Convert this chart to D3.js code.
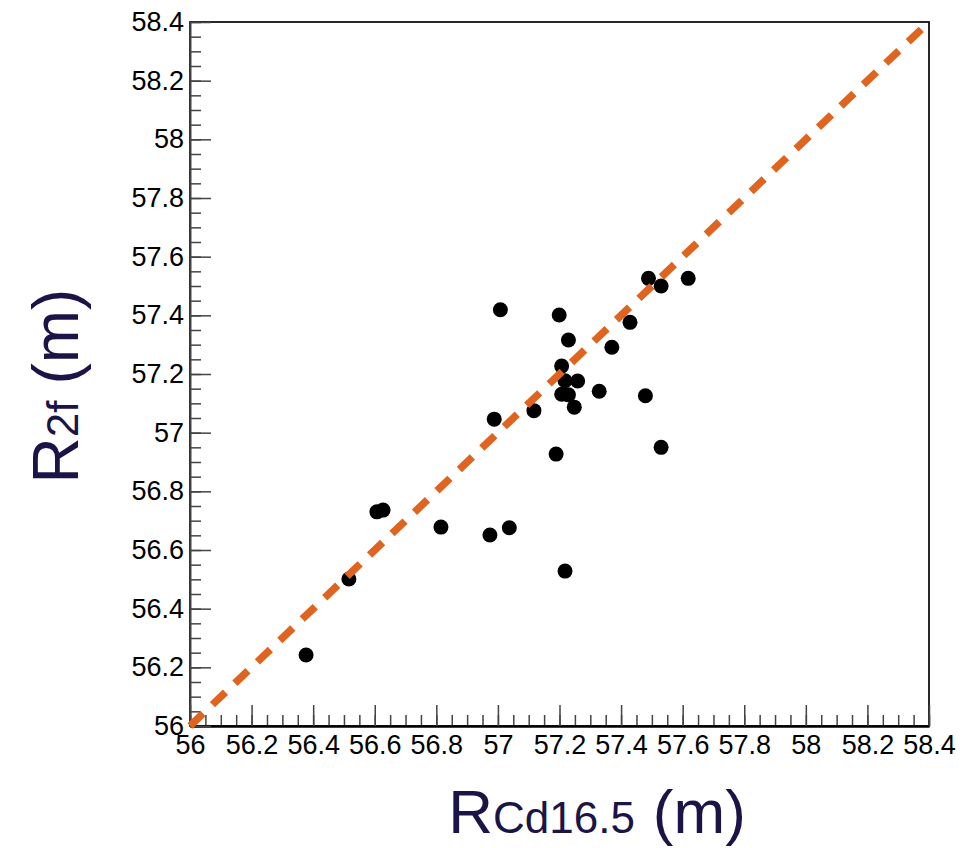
<!DOCTYPE html>
<html>
<head>
<meta charset="utf-8">
<script src="https://cdn.jsdelivr.net/npm/d3@7"></script>
<style>
  body { margin: 0; background: #fff; }
  svg { display: block; font-family: "Liberation Sans", Arial, Helvetica, sans-serif; }
</style>
</head>
<body>
<svg id="chart" width="968" height="848"></svg>
<script>
// values
const rCd = [56.377, 56.516, 56.607, 56.627, 56.815, 56.974, 57.037, 56.988, 57.008, 57.117,
             57.199, 57.229, 57.207, 57.218, 57.259, 57.207, 57.229, 57.248, 57.329, 57.189,
             57.429, 57.370, 57.489, 57.530, 57.618, 57.479, 57.530, 57.218]
const r2f = [56.242, 56.501, 56.730, 56.736, 56.678, 56.651, 56.676, 57.046, 57.419, 57.075,
             57.401, 57.316, 57.227, 57.177, 57.176, 57.131, 57.129, 57.087, 57.141, 56.927,
             57.376, 57.291, 57.526, 57.500, 57.526, 57.126, 56.950, 56.528]
const diagX = [56, 58.4]
const diagY = [56, 58.4]
const majorTicks = [56, 56.2, 56.4, 56.6, 56.8, 57, 57.2, 57.4, 57.6, 57.8, 58, 58.2, 58.4]
const minorTicks = d3.range(0, 49).map(i => 56 + i * 0.05)

const svg = d3.select('#chart')
const mLeft = 190, mRight = 929, mTop = 22, mBottom = 726
const titleColor = '#1b1446'

const x = d3.scaleLinear().domain([56, 58.4]).range([mLeft, mRight])
const y = d3.scaleLinear().domain([56, 58.4]).range([mBottom, mTop])
const fmt = d => String(+d.toFixed(2))

// frame
svg.append('rect')
  .attr('x', mLeft).attr('y', mTop)
  .attr('width', mRight - mLeft).attr('height', mBottom - mTop)
  .attr('fill', 'none').attr('stroke', '#111').attr('stroke-width', 1.8)

// minor ticks
svg.append('g').attr('transform', `translate(0,${mBottom})`)
  .call(d3.axisBottom(x).tickValues(minorTicks).tickSize(-11).tickFormat(''))
  .call(g => g.select('.domain').remove())
  .call(g => g.selectAll('line').attr('stroke', '#444').attr('stroke-width', 1.5))
svg.append('g').attr('transform', `translate(${mLeft},0)`)
  .call(d3.axisLeft(y).tickValues(minorTicks).tickSize(-11).tickFormat(''))
  .call(g => g.select('.domain').remove())
  .call(g => g.selectAll('line').attr('stroke', '#444').attr('stroke-width', 1.5))

// major ticks + labels
svg.append('g').attr('transform', `translate(0,${mBottom})`)
  .call(d3.axisBottom(x).tickValues(majorTicks).tickSizeInner(-21).tickSizeOuter(0).tickPadding(9).tickFormat(fmt))
  .call(g => g.select('.domain').attr('stroke', '#000').attr('stroke-width', 2.5))
  .call(g => g.selectAll('line').attr('stroke', '#444').attr('stroke-width', 1.5))
  .call(g => g.selectAll('text').attr('font-size', 27).attr('fill', '#000').attr('font-family', null))

svg.append('g').attr('transform', `translate(${mLeft},0)`)
  .call(d3.axisLeft(y).tickValues(majorTicks).tickSizeInner(-21).tickSizeOuter(0).tickPadding(6).tickFormat(fmt))
  .call(g => g.select('.domain').attr('stroke', '#444').attr('stroke-width', 2))
  .call(g => g.selectAll('line').attr('stroke', '#444').attr('stroke-width', 1.5))
  .call(g => g.selectAll('text').attr('font-size', 27).attr('fill', '#000').attr('font-family', null))

// points
svg.append('g').selectAll('circle')
  .data(rCd.map((v, i) => ({x: v, y: r2f[i]})))
  .enter().append('circle')
    .attr('cx', d => x(d.x))
    .attr('cy', d => y(d.y))
    .attr('r', 7.5)
    .attr('fill', '#000')

// y = x reference line
svg.append('path')
  .datum(diagX.map((v, i) => [v, diagY[i]]))
  .attr('d', d3.line().x(d => x(d[0])).y(d => y(d[1])))
  .attr('fill', 'none')
  .attr('stroke', '#df6420')
  .attr('stroke-width', 7.5)
  .attr('stroke-dasharray', '18,13')

// axis titles
const xt = svg.append('text')
  .attr('x', 597).attr('y', 833)
  .attr('text-anchor', 'middle')
  .attr('fill', titleColor)
  .attr('font-size', 62)
xt.append('tspan').text('R')
xt.append('tspan').attr('font-size', 44).text('Cd16.5')
xt.append('tspan').attr('dx', 18).text('(m)')

const yt = svg.append('text')
  .attr('transform', 'translate(78,386) rotate(-90)')
  .attr('text-anchor', 'middle')
  .attr('fill', titleColor)
  .attr('font-size', 64)
yt.append('tspan').text('R')
yt.append('tspan').attr('font-size', 44).text('2f')
yt.append('tspan').attr('dx', 16).text('(m)')
</script>
</body>
</html>
